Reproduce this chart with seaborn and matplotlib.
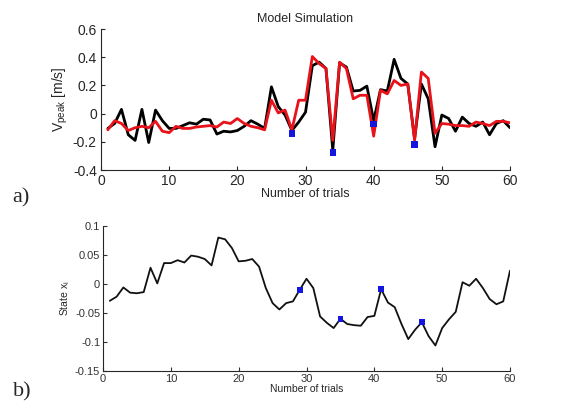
import numpy as np
import pandas as pd
import matplotlib
matplotlib.use("Agg")
import matplotlib.pyplot as plt
import seaborn as sns

trials = list(range(1, 61))

vpeak_measured = [-0.105, -0.07, 0.03, -0.15, -0.19, 0.03, -0.205, 0.025, -0.05, -0.105,
                  -0.105, -0.085, -0.065, -0.075, -0.04, -0.045, -0.145, -0.125, -0.13, -0.12,
                  -0.09, -0.05, -0.075, -0.105, 0.19, 0.05, -0.01, -0.12, -0.06, 0.01,
                  0.34, 0.365, 0.32, -0.26, 0.36, 0.33, 0.16, 0.165, 0.195, -0.05,
                  0.17, 0.16, 0.385, 0.25, 0.21, -0.18, 0.21, 0.105, -0.235, -0.01,
                  -0.035, -0.125, -0.025, -0.07, -0.09, -0.06, -0.15, -0.07, -0.05, -0.1]

vpeak_model = [-0.115, -0.05, -0.07, -0.12, -0.1, -0.09, -0.1, -0.055, -0.125, -0.135,
               -0.09, -0.105, -0.105, -0.095, -0.09, -0.085, -0.095, -0.06, -0.07, -0.035,
               -0.07, -0.09, -0.1, -0.115, 0.095, 0.005, 0.025, -0.115, 0.095, 0.095,
               0.405, 0.355, 0.32, -0.19, 0.365, 0.32, 0.105, 0.13, 0.13, -0.16,
               0.165, 0.14, 0.235, 0.2, 0.21, -0.19, 0.295, 0.25, -0.14, -0.07,
               -0.075, -0.085, -0.085, -0.09, -0.06, -0.07, -0.085, -0.055, -0.055, -0.065]

marker_trials_a = [28, 34, 40, 46]
marker_vals_a = [-0.14, -0.275, -0.075, -0.22]

state_x = [-0.029, -0.022, -0.006, -0.015, -0.016, -0.014, 0.028, 0.001, 0.036, 0.036,
           0.041, 0.037, 0.049, 0.047, 0.043, 0.032, 0.08, 0.077, 0.062, 0.039,
           0.04, 0.043, 0.03, -0.007, -0.033, -0.044, -0.033, -0.03, -0.01, 0.009,
           -0.007, -0.056, -0.067, -0.076, -0.06, -0.069, -0.071, -0.072, -0.057, -0.055,
           -0.009, -0.032, -0.04, -0.069, -0.095, -0.079, -0.066, -0.09, -0.106, -0.076,
           -0.061, -0.048, 0.003, -0.003, 0.009, -0.007, -0.026, -0.035, -0.03, 0.023]

marker_trials_b = [29, 35, 41, 47]
marker_vals_b = [-0.01, -0.06, -0.009, -0.066]

yticks_a = [-0.4, -0.2, 0, 0.2, 0.4, 0.6]
yticklabels_a = ["-0.4", "-0.2", "0", "0.2", "0.4", "0.6"]
yticks_b = [-0.15, -0.1, -0.05, 0, 0.05, 0.1]
yticklabels_b = ["-0.15", "-0.1", "-0.05", "0", "0.05", "0.1"]
xticks = [0, 10, 20, 30, 40, 50, 60]

sns.set_style("ticks")
plt.rcParams["font.family"] = ["Liberation Sans", "DejaVu Sans"]
plt.rcParams["axes.unicode_minus"] = False
plt.rcParams["xtick.direction"] = "in"
plt.rcParams["ytick.direction"] = "in"

df_a = pd.DataFrame({"trial": trials, "measured": vpeak_measured, "model": vpeak_model})
df_ma = pd.DataFrame({"trial": marker_trials_a, "v": marker_vals_a})
df_b = pd.DataFrame({"trial": trials, "x": state_x})
df_mb = pd.DataFrame({"trial": marker_trials_b, "x": marker_vals_b})

fig = plt.figure(figsize=(5.71, 4.07), dpi=100)
ax1 = fig.add_axes([0.1769, 0.5823, 0.7163, 0.3464])
ax2 = fig.add_axes([0.1804, 0.0885, 0.7128, 0.3563])

# Panel a
sns.lineplot(data=df_a, x="trial", y="measured", ax=ax1, color="black", lw=2.0)
sns.lineplot(data=df_a, x="trial", y="model", ax=ax1, color="#e8131a", lw=2.0)
sns.scatterplot(data=df_ma, x="trial", y="v", ax=ax1, color="#1515e0", marker="s",
                s=22, edgecolor="none", zorder=5)
ax1.set_xlim(0, 60)
ax1.set_ylim(-0.4, 0.6)
ax1.set_xticks(xticks)
ax1.set_xticklabels([str(t) for t in xticks], fontsize=10)
ax1.set_yticks(yticks_a)
ax1.set_yticklabels(yticklabels_a, fontsize=10)
ax1.set_xlabel("Number of trials", fontsize=9, labelpad=0)
ax1.set_ylabel(r"$\mathregular{V_{peak}}$ [m/s]", fontsize=10, labelpad=2)
ax1.set_title("Model Simulation", fontsize=9, pad=5)
ax1.tick_params(length=3, width=0.8, pad=3)
sns.despine(ax=ax1)

# Panel b
sns.lineplot(data=df_b, x="trial", y="x", ax=ax2, color="#111111", lw=1.3)
sns.scatterplot(data=df_mb, x="trial", y="x", ax=ax2, color="#1515e0", marker="s",
                s=16, edgecolor="none", zorder=5)
ax2.set_xlim(0, 60)
ax2.set_ylim(-0.15, 0.1)
ax2.set_xticks(xticks)
ax2.set_xticklabels([str(t) for t in xticks], fontsize=8)
ax2.set_yticks(yticks_b)
ax2.set_yticklabels(yticklabels_b, fontsize=8)
ax2.set_xlabel("Number of trials", fontsize=7.5, labelpad=0)
ax2.set_ylabel(r"State $\mathregular{x_i}$", fontsize=7.5, labelpad=2)
ax2.tick_params(length=3, width=0.8, pad=2, colors="#333333")
sns.despine(ax=ax2)

fig.text(0.022, 0.515, "a)", fontsize=16, family=["Liberation Serif", "DejaVu Serif"], va="center")
fig.text(0.022, 0.037, "b)", fontsize=16, family=["Liberation Serif", "DejaVu Serif"], va="center")

fig.savefig("out.png", dpi=100)
